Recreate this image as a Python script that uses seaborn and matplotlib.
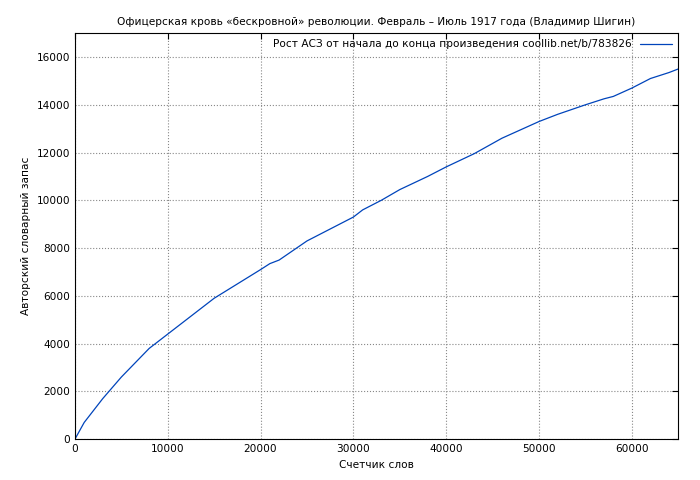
import matplotlib
matplotlib.use("Agg")
import matplotlib.pyplot as plt
import seaborn as sns
import pandas as pd

words = [0, 1000, 3000, 5000, 8000, 10000, 15000, 20000, 21000, 22000, 25000,
         30000, 31000, 33000, 35000, 38000, 40000, 43000, 46000, 48000, 50000,
         52000, 55000, 57000, 58000, 60000, 62000, 64000, 65000]
vocab = [0, 700, 1700, 2600, 3800, 4400, 5900, 7100, 7350, 7500, 8300,
         9300, 9600, 10000, 10450, 11000, 11400, 11950, 12600, 12950, 13300,
         13600, 14000, 14250, 14350, 14700, 15100, 15350, 15500]
label = "Рост АСЗ от начала до конца произведения coollib.net/b/783826"

df = pd.DataFrame({"words": words, "vocab": vocab})

sns.set_style("white")
plt.rcParams["font.family"] = ["DejaVu Sans"]
plt.rcParams["font.size"] = 7.6
plt.rcParams["text.color"] = "black"
plt.rcParams["axes.labelcolor"] = "black"
plt.rcParams["xtick.color"] = "black"
plt.rcParams["ytick.color"] = "black"

fig, ax = plt.subplots(figsize=(7, 4.8), dpi=100)
fig.subplots_adjust(left=0.107, right=0.969, top=0.931, bottom=0.085)

sns.lineplot(data=df, x="words", y="vocab", ax=ax, color="#0044bb", linewidth=0.9, label=label)

ax.set_xlim(0, 65000)
ax.set_ylim(0, 17000)
ax.set_xticks(range(0, 65000, 10000))
ax.set_yticks(range(0, 17000, 2000))
ax.grid(True, linestyle=":", color="#888888", linewidth=0.8)
for s in ax.spines.values():
    s.set_color("black")
    s.set_linewidth(0.8)
ax.tick_params(direction="in", length=4, labelsize=7.6, top=True, right=True)

ax.set_title("Офицерская кровь «бескровной» революции. Февраль – Июль 1917 года (Владимир Шигин)", fontsize=7.6)
ax.set_xlabel("Счетчик слов", fontsize=7.6)
ax.set_ylabel("Авторский словарный запас", fontsize=7.6)
ax.legend(loc="upper right", frameon=False, markerfirst=False, fontsize=7.6, handlelength=3,
          borderaxespad=0.2)

fig.savefig("out.png", dpi=100)
